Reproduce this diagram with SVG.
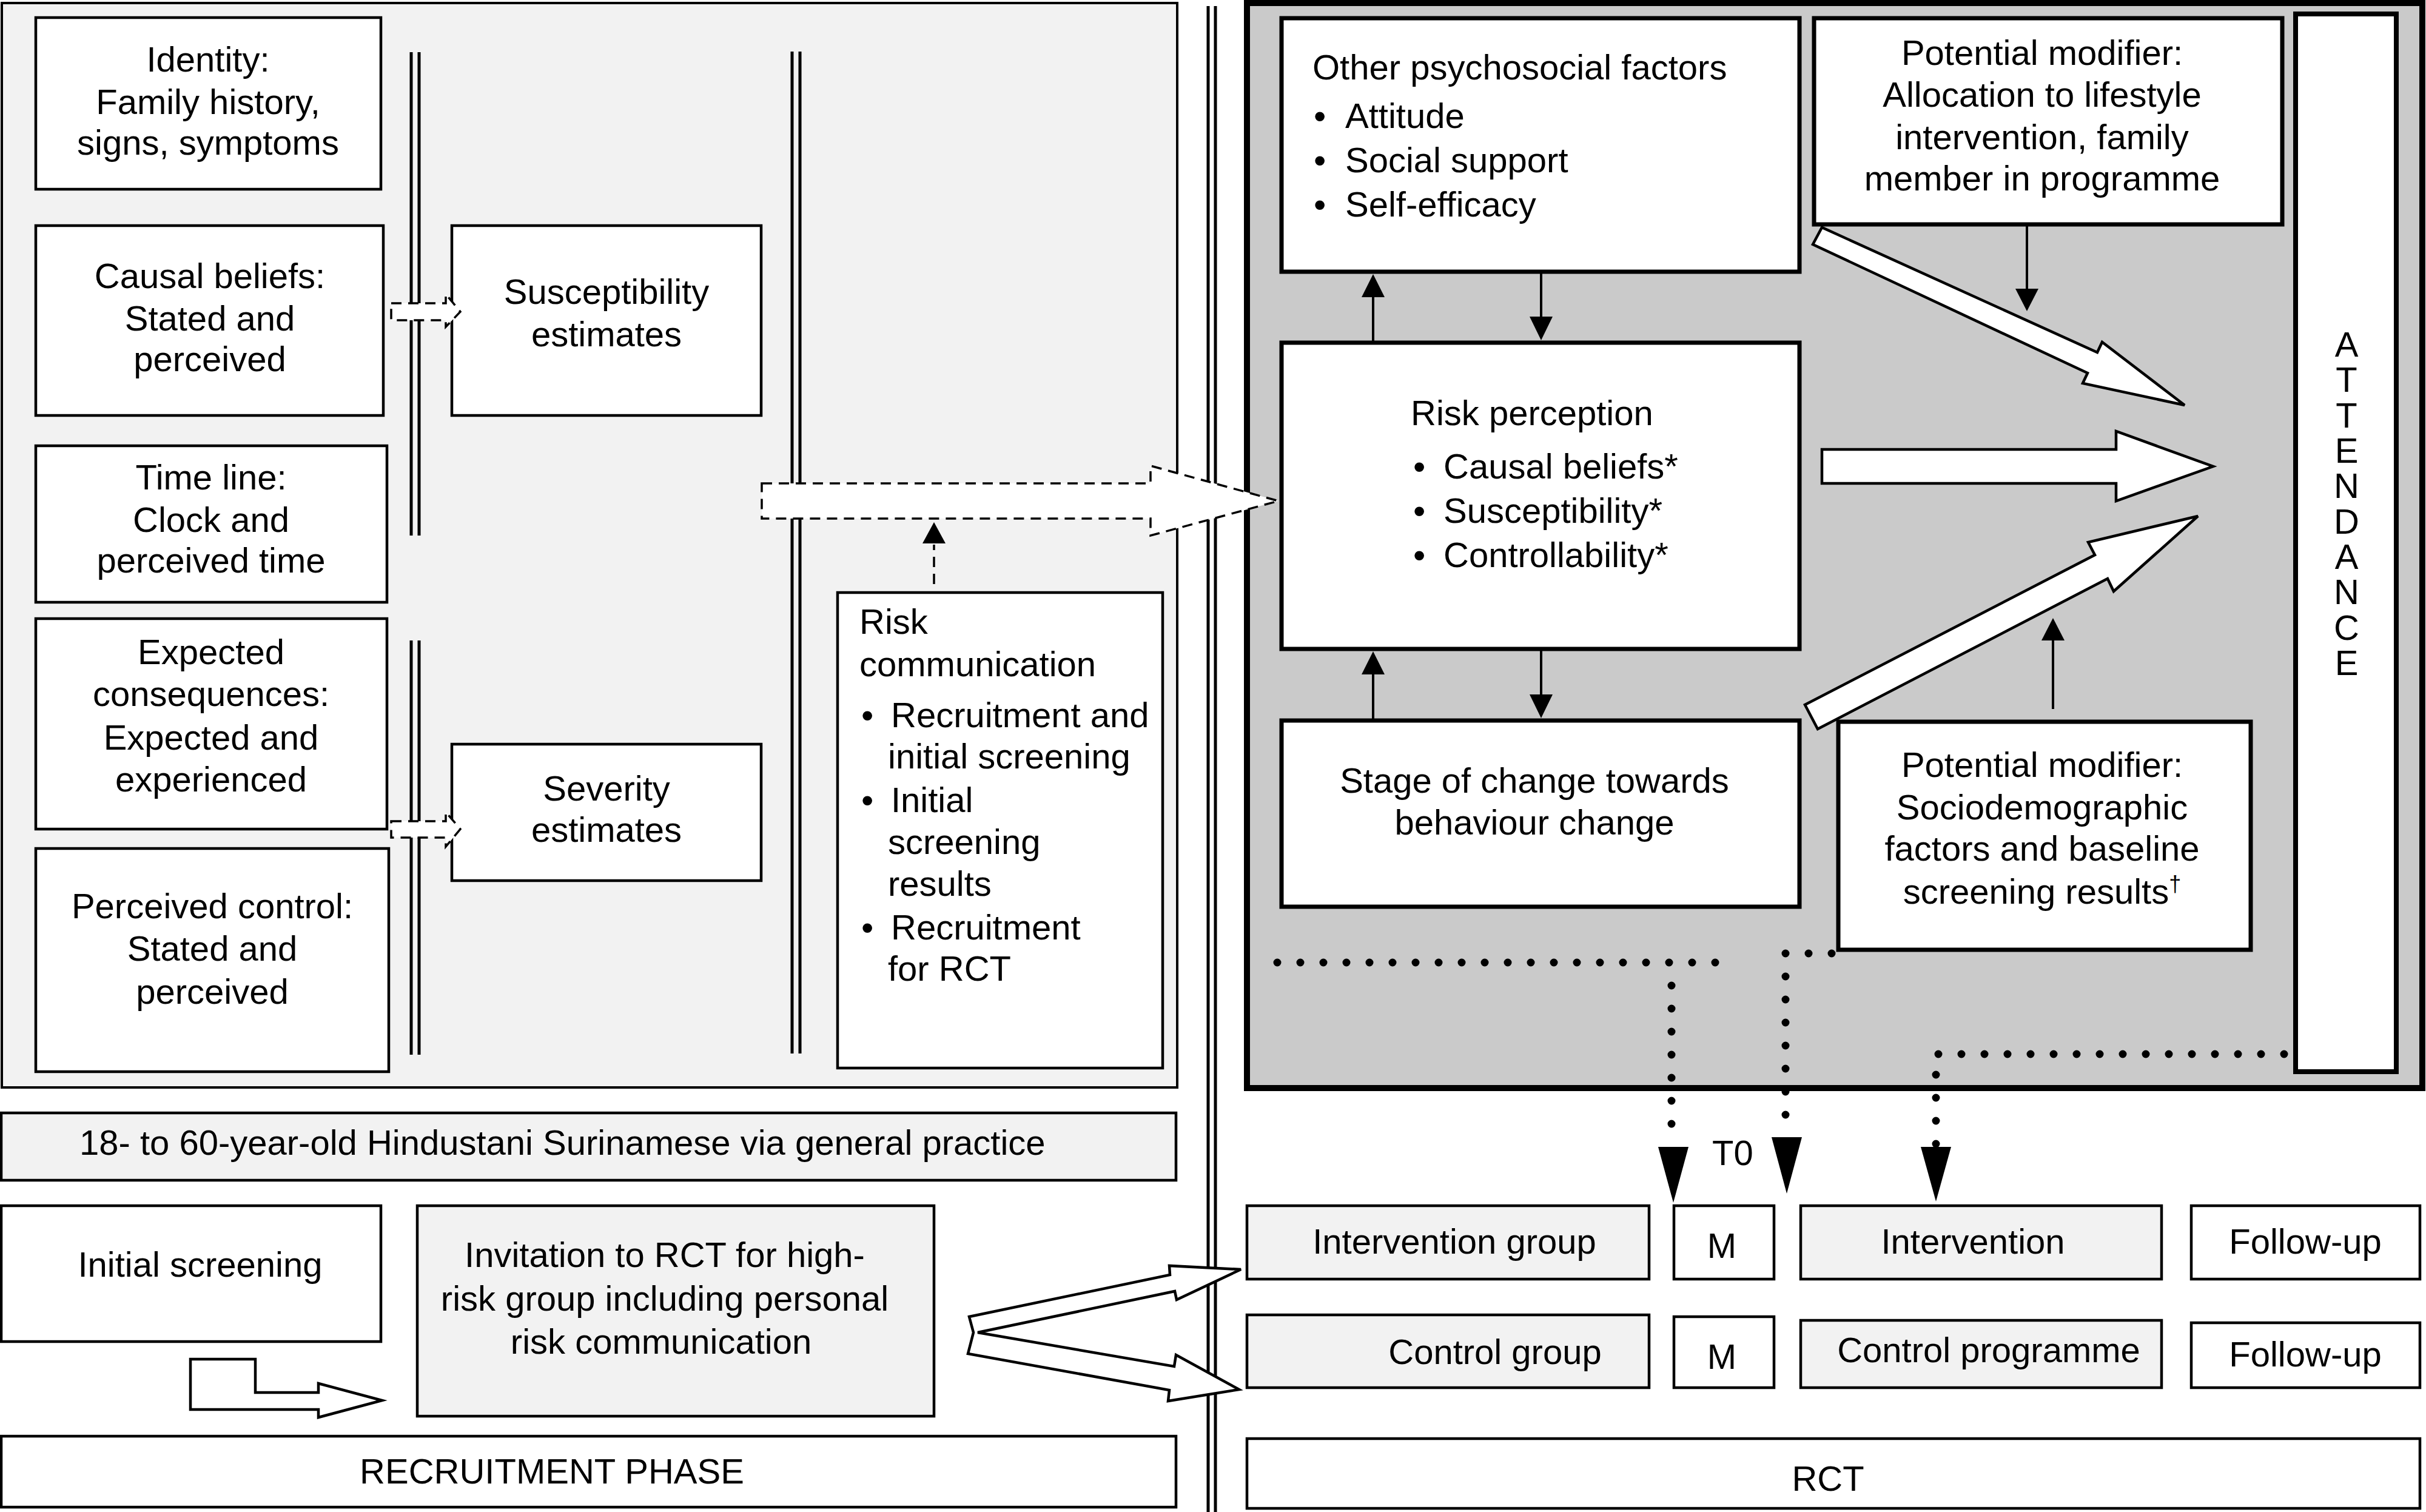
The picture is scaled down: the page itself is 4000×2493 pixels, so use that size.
<svg xmlns="http://www.w3.org/2000/svg" width="4000" height="2493" viewBox="0 0 4000 2493">
<style>
.t{font-family:"Liberation Sans",Arial,Helvetica,sans-serif;font-size:58px;fill:#000}
.c{text-anchor:middle}
.box{fill:#fff;stroke:#000;stroke-width:4.5}
.gbox{fill:#f2f2f2;stroke:#000;stroke-width:4.5}
.rbox{fill:#fff;stroke:#000;stroke-width:7}
.thin{stroke:#000;stroke-width:4;fill:none}
.head{fill:#000;stroke:none}
.big{fill:#fff;stroke:#000;stroke-width:4.5;stroke-linejoin:miter}
.dash{fill:#fff;stroke:#000;stroke-width:3.5;stroke-dasharray:17 11}
.dline{fill:none;stroke:#000;stroke-width:3.5;stroke-dasharray:17 11}
.dots{fill:none;stroke:#000;stroke-width:13;stroke-linecap:round;stroke-dasharray:0 38}
.dbl{stroke:#000;stroke-width:5}
</style>
<rect width="4000" height="2493" fill="#fff"/>
<g id="recruitment-panel">
<rect x="3" y="5" width="1938" height="1788" fill="#f2f2f2" stroke="#000" stroke-width="4"/>
</g>
<g id="rct-panel">
<rect x="2056" y="5" width="1938" height="1789" fill="#cacaca" stroke="#000" stroke-width="10"/>
</g>
<g id="separators">
<line class="dbl" x1="678" y1="86" x2="678" y2="883"/><line class="dbl" x1="691" y1="86" x2="691" y2="883"/>
<line class="dbl" x1="678" y1="1056" x2="678" y2="1739"/><line class="dbl" x1="691" y1="1056" x2="691" y2="1739"/>
<line class="dbl" x1="1306" y1="85" x2="1306" y2="1737"/><line class="dbl" x1="1319" y1="85" x2="1319" y2="1737"/>
<line class="dbl" x1="1992" y1="10" x2="1992" y2="2493"/><line class="dbl" x1="2004" y1="10" x2="2004" y2="2493"/>
</g>
<g id="identity"><rect class="box" x="59" y="29" width="569" height="283"/>
<text class="t c" x="343" y="118">Identity:</text><text class="t c" x="343" y="188">Family history,</text><text class="t c" x="343" y="255">signs, symptoms</text></g>
<g id="causal-beliefs"><rect class="box" x="59" y="372" width="573" height="313"/>
<text class="t c" x="346" y="475">Causal beliefs:</text><text class="t c" x="346" y="545">Stated and</text><text class="t c" x="346" y="612">perceived</text></g>
<g id="time-line"><rect class="box" x="59" y="735" width="579" height="258"/>
<text class="t c" x="348" y="807">Time line:</text><text class="t c" x="348" y="877">Clock and</text><text class="t c" x="348" y="944">perceived time</text></g>
<g id="expected-consequences"><rect class="box" x="59" y="1020" width="579" height="347"/>
<text class="t c" x="348" y="1095">Expected</text><text class="t c" x="348" y="1164">consequences:</text><text class="t c" x="348" y="1236">Expected and</text><text class="t c" x="348" y="1305">experienced</text></g>
<g id="perceived-control"><rect class="box" x="59" y="1399" width="582" height="368"/>
<text class="t c" x="350" y="1514">Perceived control:</text><text class="t c" x="350" y="1584">Stated and</text><text class="t c" x="350" y="1655">perceived</text></g>
<g id="susceptibility"><rect class="box" x="745" y="372" width="510" height="313"/>
<text class="t c" x="1000" y="501">Susceptibility</text><text class="t c" x="1000" y="571">estimates</text></g>
<g id="severity"><rect class="box" x="745" y="1227" width="510" height="225"/>
<text class="t c" x="1000" y="1320">Severity</text><text class="t c" x="1000" y="1388">estimates</text></g>
<g id="risk-communication"><rect class="box" x="1381" y="977" width="536" height="784"/>
<text class="t" x="1417" y="1045">Risk</text><text class="t" x="1417" y="1115">communication</text>
<text class="t" x="1420" y="1199">•</text><text class="t" x="1469" y="1199">Recruitment and</text><text class="t" x="1464" y="1267">initial screening</text>
<text class="t" x="1420" y="1339">•</text><text class="t" x="1469" y="1339">Initial</text><text class="t" x="1464" y="1408">screening</text><text class="t" x="1464" y="1477">results</text>
<text class="t" x="1420" y="1549">•</text><text class="t" x="1469" y="1549">Recruitment</text><text class="t" x="1464" y="1617">for RCT</text></g>
<g id="population"><rect class="gbox" x="2" y="1835" width="1937" height="111"/>
<text class="t" x="131" y="1904">18- to 60-year-old Hindustani Surinamese via general practice</text></g>
<g id="initial-screening"><rect class="box" x="2" y="1988" width="626" height="224"/>
<text class="t c" x="330" y="2105">Initial screening</text></g>
<g id="invitation"><rect class="gbox" x="688" y="1988" width="852" height="347"/>
<text class="t c" x="1096" y="2089">Invitation to RCT for high-</text><text class="t c" x="1096" y="2161">risk group including personal</text><text class="t c" x="1090" y="2232">risk communication</text></g>
<g id="recruitment-phase"><rect class="box" x="2" y="2368" width="1937" height="117"/>
<text class="t c" x="910" y="2446">RECRUITMENT PHASE</text></g>
<g id="other-psychosocial"><rect class="rbox" x="2113" y="30" width="854" height="418"/>
<text class="t" x="2164" y="131">Other psychosocial factors</text>
<text class="t" x="2166" y="211">•</text><text class="t" x="2218" y="211">Attitude</text>
<text class="t" x="2166" y="284">•</text><text class="t" x="2218" y="284">Social support</text>
<text class="t" x="2166" y="357">•</text><text class="t" x="2218" y="357">Self-efficacy</text></g>
<g id="modifier-allocation"><rect class="rbox" x="2991" y="30" width="772" height="340"/>
<text class="t c" x="3367" y="107">Potential modifier:</text><text class="t c" x="3367" y="176">Allocation to lifestyle</text><text class="t c" x="3367" y="246">intervention, family</text><text class="t c" x="3367" y="314">member in programme</text></g>
<g id="risk-perception"><rect class="rbox" x="2113" y="565" width="854" height="505"/>
<text class="t" x="2326" y="701">Risk perception</text>
<text class="t" x="2330" y="789">•</text><text class="t" x="2380" y="789">Causal beliefs*</text>
<text class="t" x="2330" y="862">•</text><text class="t" x="2380" y="862">Susceptibility*</text>
<text class="t" x="2330" y="935">•</text><text class="t" x="2380" y="935">Controllability*</text></g>
<g id="stage-of-change"><rect class="rbox" x="2113" y="1188" width="854" height="307"/>
<text class="t c" x="2530" y="1307">Stage of change towards</text><text class="t c" x="2530" y="1376">behaviour change</text></g>
<g id="modifier-sociodemographic"><rect class="rbox" x="3031" y="1190" width="680" height="376"/>
<text class="t c" x="3367" y="1281">Potential modifier:</text><text class="t c" x="3367" y="1351">Sociodemographic</text><text class="t c" x="3367" y="1419">factors and baseline</text><text class="t c" x="3367" y="1490">screening results<tspan font-size="36" dy="-20">†</tspan></text></g>
<g id="attendance"><rect x="3785" y="23" width="166" height="1744" fill="#fff" stroke="#000" stroke-width="8"/>
<text class="t c" x="3869" y="588">A</text><text class="t c" x="3869" y="646">T</text><text class="t c" x="3869" y="705">T</text><text class="t c" x="3869" y="763">E</text><text class="t c" x="3869" y="821">N</text><text class="t c" x="3869" y="880">D</text><text class="t c" x="3869" y="938">A</text><text class="t c" x="3869" y="996">N</text><text class="t c" x="3869" y="1055">C</text><text class="t c" x="3869" y="1113">E</text></g>
<g id="intervention-group"><rect class="gbox" x="2056" y="1988" width="663" height="121"/><text class="t c" x="2398" y="2067">Intervention group</text></g>
<g id="m-intervention"><rect class="box" x="2760" y="1988" width="165" height="121"/><text class="t c" x="2839" y="2074">M</text></g>
<g id="intervention"><rect class="gbox" x="2969" y="1988" width="595" height="121"/><text class="t c" x="3253" y="2067">Intervention</text></g>
<g id="follow-up-intervention"><rect class="box" x="3613" y="1988" width="377" height="121"/><text class="t c" x="3801" y="2067">Follow-up</text></g>
<g id="control-group"><rect class="gbox" x="2056" y="2168" width="663" height="120"/><text class="t c" x="2465" y="2249">Control group</text></g>
<g id="m-control"><rect class="box" x="2760" y="2171" width="165" height="117"/><text class="t c" x="2839" y="2257">M</text></g>
<g id="control-programme"><rect class="gbox" x="2969" y="2177" width="595" height="111"/><text class="t c" x="3279" y="2246">Control programme</text></g>
<g id="follow-up-control"><rect class="box" x="3613" y="2181" width="377" height="107"/><text class="t c" x="3801" y="2253">Follow-up</text></g>
<g id="rct"><rect class="box" x="2056" y="2372" width="1934" height="115"/><text class="t c" x="3014" y="2458">RCT</text></g>
<g id="t0-label"><text class="t" x="2823" y="1921">T0</text></g>
<g id="connectors">
<polygon class="dash" points="645,500 735,500 735,485 759,514 735,539 735,528 645,528"/>
<polygon class="dash" points="645,1354 735,1354 735,1339 759,1367 735,1396 735,1381 645,1381"/>
<polygon class="dash" points="1256,797 1897,797 1897,768 2108,826 1897,883 1897,855 1256,855"/>
<line class="dline" x1="1540" y1="963" x2="1540" y2="898"/>
<polygon class="head" points="1521,896 1559,896 1540,861"/>
<polygon class="big" points="314,2241 421,2241 421,2296 525,2296 525,2281 630,2309 525,2337 525,2324 314,2324"/>
<polygon class="big" points="1598,2171 1929,2102 1928,2087 2046,2093 1940,2143 1937,2129 1612,2197 1936,2253 1939,2234 2043,2291 1926,2310 1928,2292 1596,2232 1605,2197"/>
<line class="thin" x1="2264" y1="565" x2="2264" y2="480"/><polygon class="head" points="2245,490 2283,490 2264,452"/>
<line class="thin" x1="2541" y1="449" x2="2541" y2="530"/><polygon class="head" points="2522,522 2560,522 2541,561"/>
<line class="thin" x1="2264" y1="1186" x2="2264" y2="1100"/><polygon class="head" points="2245,1112 2283,1112 2264,1074"/>
<line class="thin" x1="2541" y1="1071" x2="2541" y2="1150"/><polygon class="head" points="2522,1145 2560,1145 2541,1184"/>
<line class="thin" x1="3342" y1="373" x2="3342" y2="480"/><polygon class="head" points="3323,476 3361,476 3342,513"/>
<line class="thin" x1="3385" y1="1169" x2="3385" y2="1050"/><polygon class="head" points="3366,1056 3404,1056 3385,1019"/>
<polygon class="big" points="2989,403 3004,375 3458,581 3466,564 3602,668 3434,632 3442,615"/>
<polygon class="big" points="3004,741 3489,741 3489,711 3649,769 3489,826 3489,797 3004,797"/>
<polygon class="big" points="2976,1162 3454,915 3443,894 3624,851 3485,975 3475,954 2997,1202"/>
<path class="dots" d="M2106,1587 H2833 M2756,1625 V1890"/>
<path class="dots" d="M3020,1572 H2944 V1870"/>
<path class="dots" d="M3766,1738 H3192 V1890"/>
<polygon class="head" points="2734,1891 2784,1891 2759,1983"/>
<polygon class="head" points="2921,1875 2971,1875 2946,1968"/>
<polygon class="head" points="3167,1891 3217,1891 3192,1981"/>
</g>
</svg>
